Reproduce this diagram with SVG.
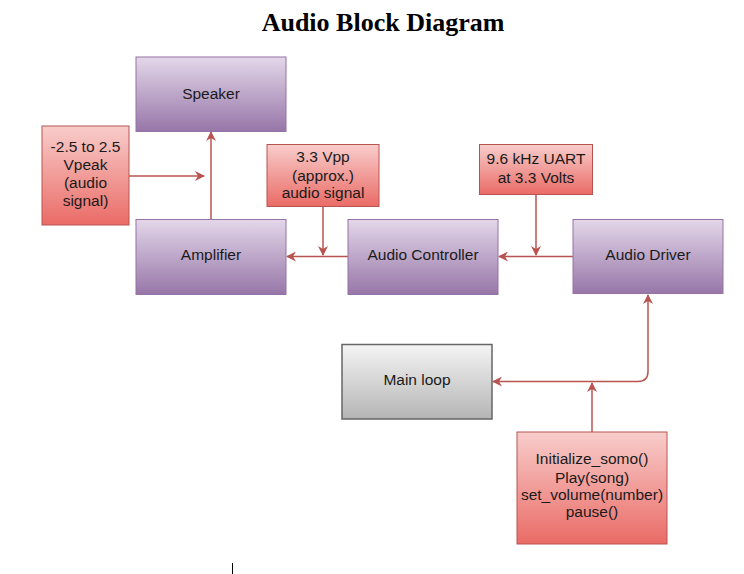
<svg xmlns="http://www.w3.org/2000/svg" width="744" height="574" viewBox="0 0 744 574">
<defs>
<linearGradient id="gPurple" x1="0" y1="0" x2="0" y2="1"><stop offset="0" stop-color="#e3d7e9"/><stop offset="1" stop-color="#9776a8"/></linearGradient>
<linearGradient id="gRed" x1="0" y1="0" x2="0" y2="1"><stop offset="0" stop-color="#f8cdcb"/><stop offset="1" stop-color="#ea6b66"/></linearGradient>
<linearGradient id="gGray" x1="0" y1="0" x2="0" y2="1"><stop offset="0" stop-color="#f4f4f4"/><stop offset="1" stop-color="#b5b5b5"/></linearGradient>
<marker id="arr" viewBox="0 0 10 10" refX="9" refY="5" markerWidth="10" markerHeight="10" markerUnits="userSpaceOnUse" orient="auto">
<path d="M0,0 L10,5 L0,10 L3,5 Z" fill="#b85450"/>
</marker>
<marker id="arrS" viewBox="0 0 10 10" refX="1" refY="5" markerWidth="10" markerHeight="10" markerUnits="userSpaceOnUse" orient="auto">
<path d="M10,0 L0,5 L10,10 L7,5 Z" fill="#b85450"/>
</marker>
</defs>
<style>
.p{fill:url(#gPurple);stroke:#9673a6;stroke-width:1}
.r{fill:url(#gRed);stroke:#b85450;stroke-width:1}
.g{fill:url(#gGray);stroke:#666666;stroke-width:1.5}
.t{font-family:"Liberation Sans",Arial,sans-serif;font-size:15.5px;fill:#1a1a1a;text-anchor:middle}
.e{fill:none;stroke:#b85450;stroke-width:1.5}
</style>
<rect width="744" height="574" fill="#ffffff"/>
<text x="383" y="31" font-family="Liberation Serif,'Times New Roman',serif" font-weight="bold" font-size="26" text-anchor="middle" fill="#000">Audio Block Diagram</text>

<g id="connectors">
<line class="e" x1="129" y1="176" x2="204" y2="176" marker-end="url(#arr)"/>
<line class="e" x1="211" y1="219" x2="211" y2="132" marker-end="url(#arr)"/>
<line class="e" x1="348" y1="256.5" x2="287" y2="256.5" marker-end="url(#arr)"/>
<line class="e" x1="323" y1="207" x2="323" y2="255" marker-end="url(#arr)"/>
<line class="e" x1="573" y1="256.5" x2="499" y2="256.5" marker-end="url(#arr)"/>
<line class="e" x1="536" y1="194" x2="536" y2="255" marker-end="url(#arr)"/>
<path class="e" d="M493,381.5 L638,381.5 Q648,381.5 648,371.5 L648,295" marker-start="url(#arrS)" marker-end="url(#arr)"/>
<line class="e" x1="592" y1="432" x2="592" y2="383" marker-end="url(#arr)"/>
</g>

<g id="speaker"><rect class="p" x="136" y="57" width="150" height="74.5"/><text class="t" x="211" y="99">Speaker</text></g>
<g id="amplifier"><rect class="p" x="136" y="219.5" width="150" height="75"/><text class="t" x="211" y="260">Amplifier</text></g>
<g id="audio-controller"><rect class="p" x="348" y="219.5" width="150" height="75"/><text class="t" x="423" y="260">Audio Controller</text></g>
<g id="audio-driver"><rect class="p" x="573" y="219.5" width="150" height="74"/><text class="t" x="648" y="260">Audio Driver</text></g>
<g id="main-loop"><rect class="g" x="342" y="344.5" width="150" height="74.5"/><text class="t" x="417" y="385">Main loop</text></g>

<g id="vpeak-label"><rect class="r" x="42" y="126" width="87" height="99"/>
<text class="t" x="85.5" y="151.5">-2.5 to 2.5</text><text class="t" x="85.5" y="170">Vpeak</text><text class="t" x="85.5" y="188">(audio</text><text class="t" x="85.5" y="205.5">signal)</text></g>
<g id="vpp-label"><rect class="r" x="267" y="144.5" width="112" height="62"/>
<text class="t" x="323" y="162">3.3 Vpp</text><text class="t" x="323" y="180.5">(approx.)</text><text class="t" x="323" y="197.5">audio signal</text></g>
<g id="uart-label"><rect class="r" x="479.5" y="144.5" width="113" height="50"/>
<text class="t" x="536" y="163.5">9.6 kHz UART</text><text class="t" x="536" y="182.5">at 3.3 Volts</text></g>
<g id="functions"><rect class="r" x="517" y="432" width="150" height="112"/>
<text class="t" x="592" y="463.5">Initialize_somo()</text><text class="t" x="592" y="482.5">Play(song)</text><text class="t" x="592" y="500">set_volume(number)</text><text class="t" x="592" y="517">pause()</text></g>
<line x1="232.5" y1="563" x2="232.5" y2="574" stroke="#000" stroke-width="1"/>
</svg>
